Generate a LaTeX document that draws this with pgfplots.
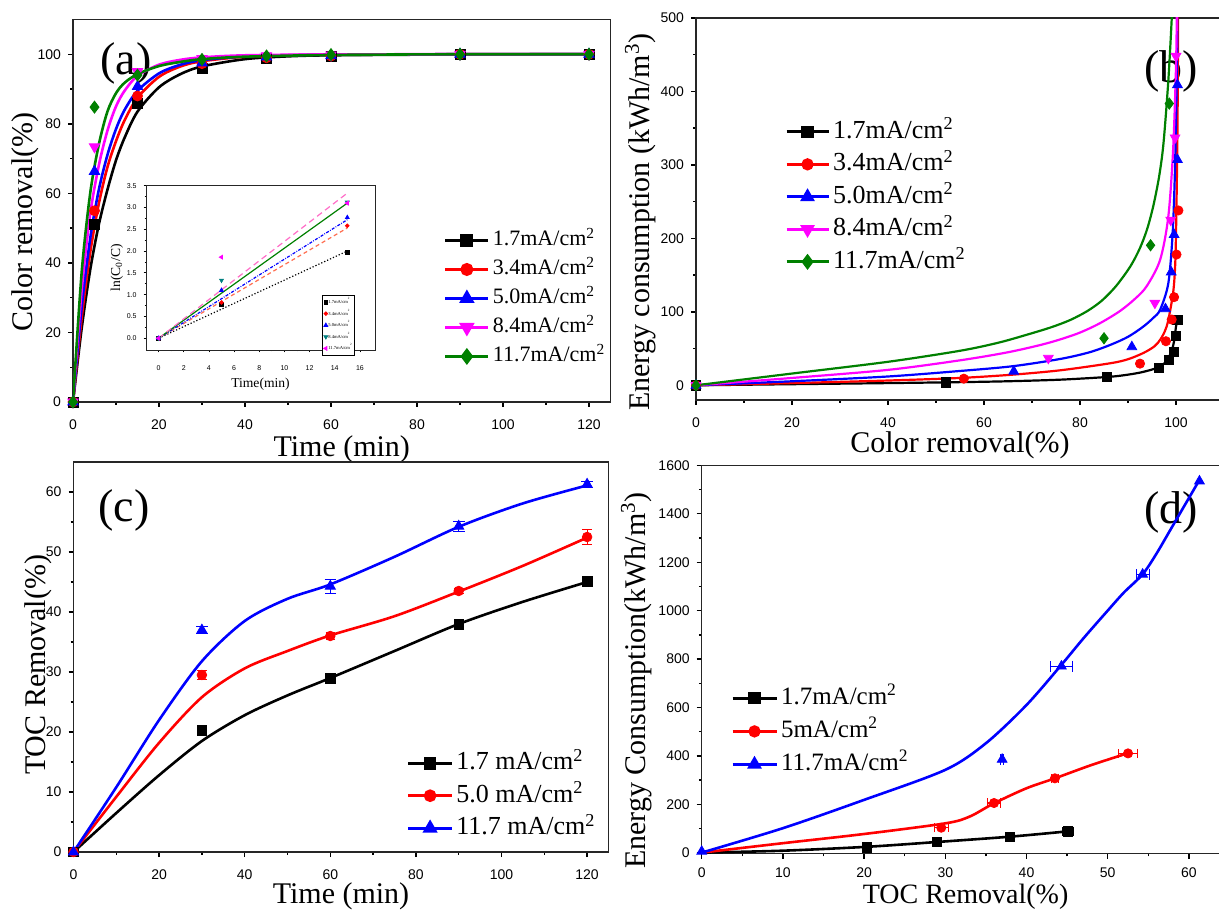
\documentclass[border=0pt]{standalone}
\usepackage{fontspec}
\setmainfont{Liberation Serif}
\setsansfont{Liberation Sans}
\usepackage{pgfplots}
\pgfplotsset{compat=1.18}
\definecolor{ogreen}{RGB}{0,128,0}
\definecolor{oteal}{RGB}{0,128,128}
\definecolor{opink}{RGB}{255,110,200}
\definecolor{oorange}{RGB}{255,110,80}
\definecolor{omag}{RGB}{255,0,255}

\pgfplotsset{
  base/.style={
    scale only axis, anchor=south west,
    axis line style={line width=0.7pt, black!85},
    tick align=outside, xtick pos=left, ytick pos=left,
    major tick length=2.5pt, minor tick length=1.4pt,
    every tick/.style={black, line width=0.7pt},
    minor tick num=1,
    /pgf/number format/assume math mode=true,
    /pgf/number format/set thousands separator={},
    ticklabel style={font=\sffamily\fontsize{7}{8}\selectfont},
    xticklabel style={yshift=-3pt},
    label style={font=\fontsize{15}{18}\selectfont},
    legend cell align=left,
  },
  leg/.style n args={4}{% x, y, font, rowsep
    legend style={at={(rel axis cs:#1,#2)}, anchor=north west, draw=none, fill=none,
      inner sep=0pt, outer sep=0pt, row sep=#4,
      font=\fontsize{#3}{#3}\selectfont,
      nodes={inner sep=0pt, text height=0.75*#3pt, text depth=0.25*#3pt},
      /tikz/every odd column/.append style={column sep=1.5pt}},
  },
  limg/.style={legend image code/.code={\draw[mark repeat=2,mark phase=2] plot coordinates {(0pt,0pt)(#1/2,0pt)(#1,0pt)};}},
  cv/.style={smooth, tension=0.5, line width=1.3pt, forget plot, no markers},
  mk/.style={only marks, forget plot},
}

\begin{document}
\begin{tikzpicture}
%%%%%%%%%%%%%%%%%%%% (a)
\begin{axis}[base, at={(36.5pt,253.5pt)}, width=268.75pt, height=191.25pt,
  xmin=0, xmax=125, ymin=0, ymax=110,
  xtick={0,20,...,120}, ytick={0,20,...,100},
  xlabel={Time (min)}, ylabel={Color removal(\%)},
  ylabel style={at={(ticklabel cs:0.47)}}, ylabel shift=-7.5pt, xlabel shift=-4pt,
  leg={0.690}{0.451}{11}{3.5pt}, limg=21.5pt,
  mark size=2.5pt,
]
\node[font=\fontsize{23}{26}\selectfont] at (rel axis cs:0.0986,0.884) {(a)};
\addplot[cv, black] coordinates {(0,0)(2,21)(4,38)(6,51)(8,61)(10,69.5)(12,76)(15,83.5)(20,90.5)(25,94.3)(30,96.5)(40,98.6)(50,99.4)(60,99.7)(90,99.95)(120,100)};
\addplot[cv, red] coordinates {(0,0)(2,24)(4,43)(6,57)(8,67.5)(10,75)(12,81)(15,87.5)(20,93.5)(25,96.5)(30,98)(40,99.3)(50,99.7)(60,99.9)(90,100)(120,100)};
\addplot[cv, blue] coordinates {(0,0)(2,27)(4,47)(6,61)(8,71)(10,78.5)(12,84)(15,89.5)(20,94.5)(25,97)(30,98.3)(40,99.4)(50,99.7)(60,99.9)(90,100)(120,100)};
\addplot[cv, omag] coordinates {(0,0)(2,32)(4,54)(6,68)(8,78)(10,85)(12,89.5)(15,93.8)(20,97)(25,98.4)(30,99.1)(40,99.7)(60,99.95)(90,100)(120,100)};
\addplot[cv, ogreen] coordinates {(0,0)(2,37)(4,60)(6,74)(8,83.5)(10,88.8)(12,91.8)(15,94.3)(20,96.6)(25,97.8)(30,98.6)(40,99.3)(60,99.8)(90,100)(120,100)};
\addplot[mk, black, mark=square*] coordinates {(0,0)(5,51)(15,86)(30,96)(45,98.8)(60,99.3)(90,100)(120,100)};
\addplot[mk, red, mark=*] coordinates {(0,0)(5,55)(15,88)(30,97.3)(45,99)(60,99.5)(90,100)(120,100)};
\addplot[mk, blue, mark=triangle*, mark size=3pt] coordinates {(0,0)(5,66.3)(15,90.7)(30,97.5)(45,99.2)(60,99.6)(90,100)(120,100)};
\addplot[mk, omag, mark=triangle*, mark size=3pt, mark options={rotate=180}] coordinates {(0,0)(5,73.4)(15,95)(30,98.8)(45,99.6)(60,99.8)(90,100)(120,100)};
\addplot[mk, ogreen, mark=diamond*, mark size=3pt] coordinates {(0,0)(5,84.8)(15,94)(30,98.5)(45,99.5)(60,99.9)(90,100)(120,100)};
\addlegendimage{black, line width=1.5pt, mark=square*}\addlegendentry{1.7mA/cm\textsuperscript{2}}
\addlegendimage{red, line width=1.5pt, mark=*}\addlegendentry{3.4mA/cm\textsuperscript{2}}
\addlegendimage{blue, line width=1.5pt, mark=triangle*, mark size=3pt}\addlegendentry{5.0mA/cm\textsuperscript{2}}
\addlegendimage{omag, line width=1.5pt, mark=triangle*, mark size=3pt, mark options={rotate=180}}\addlegendentry{8.4mA/cm\textsuperscript{2}}
\addlegendimage{ogreen, line width=1.5pt, mark=diamond*, mark size=3pt}\addlegendentry{11.7mA/cm\textsuperscript{2}}
\end{axis}
%%%%%%%%%%%%%%%%%%%% inset
\begin{axis}[base, at={(73pt,279.5pt)}, width=114.5pt, height=82.15pt,
  axis background/.style={fill=white},
  xmin=-1, xmax=17.2, ymin=-0.27, ymax=3.5,
  xtick={0,2,...,16}, ytick={0,0.5,...,3.5},
  axis line style={line width=0.4pt, black!85},
  major tick length=1.2pt, minor tick length=0.7pt,
  every tick/.style={black, line width=0.4pt},
  ticklabel style={font=\sffamily\fontsize{3.5}{4}\selectfont},
  xticklabel style={yshift=0pt},
  yticklabel style={/pgf/number format/.cd, fixed, fixed zerofill, precision=1},
  xlabel={Time(min)}, ylabel={ln(C\textsubscript{0}/C)},
  xlabel shift=-3pt, ylabel shift=-5pt,
  label style={font=\fontsize{6.8}{8}\selectfont},
  legend style={at={(rel axis cs:0.767,0.335)}, anchor=north west, draw=black, line width=0.4pt,
    fill=white, font=\fontsize{2.3}{2.6}\selectfont, inner sep=0.8pt, row sep=0.6pt,
    nodes={inner sep=0.3pt}},
  legend image code/.code={\draw plot coordinates {(2pt,0pt)};},
  mark size=0.9pt,
]
\addplot[black, densely dotted, line width=0.6pt, forget plot] coordinates {(0,0)(15,2.0)};
\addplot[oorange, dash pattern=on 2pt off 1.5pt, line width=0.6pt, forget plot] coordinates {(0,0)(15,2.53)};
\addplot[blue, dash pattern=on 1.5pt off 0.7pt on 0.4pt off 0.7pt, line width=0.6pt, forget plot] coordinates {(0,0)(15,2.72)};
\addplot[ogreen, line width=0.6pt, forget plot] coordinates {(0,0)(15,3.1)};
\addplot[opink, densely dashed, line width=0.6pt, forget plot] coordinates {(0,0)(15,3.33)};
\addplot[only marks, black, mark=square*] coordinates {(0,0)(5,0.77)(15,1.97)};
\addplot[only marks, red, mark=*] coordinates {(0,0)(5,0.82)(15,2.58)};
\addplot[only marks, blue, mark=triangle*, mark size=1.1pt] coordinates {(0,0)(5,1.1)(15,2.77)};
\addplot[only marks, oteal, mark=triangle*, mark size=1.1pt, mark options={rotate=180}] coordinates {(0,0)(5,1.33)(15,3.12)};
\addplot[only marks, omag, mark=triangle*, mark size=1.1pt, mark options={rotate=90}] coordinates {(0,0)(5,1.86)(15,3.1)};
\legend{1.7mA/cm\textsuperscript{2},3.4mA/cm\textsuperscript{2},5.0mA/cm\textsuperscript{2},8.4mA/cm\textsuperscript{2},11.7mA/cm\textsuperscript{2}}
\end{axis}
%%%%%%%%%%%%%%%%%%%% (b)
\begin{axis}[base, at={(348pt,254.5pt)}, width=264pt, height=191pt,
  xmin=0, xmax=110, ymin=-20, ymax=500,
  xtick={0,20,...,100}, ytick={0,100,...,500},
  xlabel={Color removal(\%)}, ylabel={Energy consumption (kWh/m\textsuperscript{3})},
  ylabel style={at={(ticklabel cs:0.466)}}, ylabel shift=-4.5pt, xlabel shift=-5pt,
  leg={0.1686}{0.736}{13}{3.25pt}, limg=21pt,
  mark size=2.3pt,
]
\node[font=\fontsize{23}{26}\selectfont] at (rel axis cs:0.9,0.861) {(b)};
\addplot[cv, black, line width=1.1pt] coordinates {(0,0)(20,1.5)(40,3)(55,4.3)(65,5.5)(76,7.7)(86,11.5)(90,14.5)(93,18)(96,23.6)(97.6,30)(98.4,37)(99.1,47)(99.6,60)(100,80)(100.3,88)};
\addplot[cv, red, line width=1.1pt] coordinates {(0,0)(20,3)(40,6.5)(55,10)(66,14.5)(76,20.5)(86.3,30)(90,35.5)(93.2,44)(95.5,53)(96.7,62)(97.7,74)(98.4,89)(99.4,126)(99.8,160)(100,207)(100.3,344)(100.45,520)};
\addplot[cv, blue, line width=1.1pt] coordinates {(0,0)(20,5.5)(40,12)(55,19.5)(66,26)(76,36)(82,45)(86.3,55)(90,66)(93.2,80)(95.3,92)(96.7,103)(98.4,139)(99.3,207)(99.8,298)(100.2,434)(100.3,520)};
\addplot[cv, omag, line width=1.1pt] coordinates {(0,0)(20,10)(40,21)(55,34)(65,45)(73,57)(79.3,70)(84,84)(88.3,101)(91.5,118)(93.9,135)(96.7,171)(98.4,230)(99.4,321)(100,434)(100.2,520)};
\addplot[cv, ogreen, line width=1.1pt] coordinates {(0,0)(20,16)(40,32)(55,47)(63,58)(69,69)(74,79)(78,89)(81.5,101)(84.5,115)(87.5,135)(90.5,162)(92.5,187)(94,213)(95.3,245)(96.5,285)(97.4,330)(98.4,415)(99.1,498)(99.2,520)};
\addplot[mk, black, mark=square*] coordinates {(0,0)(52,4)(85.6,11)(96.5,23.5)(98.6,35)(99.6,45.5)(100,67)(100.3,88.5)};
\addplot[mk, red, mark=*] coordinates {(0,0)(55.8,9)(92.5,29.5)(97.9,60)(99.1,89.5)(99.6,120)(100.1,178)(100.5,238)};
\addplot[mk, blue, mark=triangle*, mark size=2.8pt] coordinates {(0,0)(66.2,19)(90.8,52.3)(97.8,104)(99,154)(99.6,205)(100.3,307)(100.3,409)};
\addplot[mk, omag, mark=triangle*, mark size=2.8pt, mark options={rotate=180}] coordinates {(0,0)(73.4,37)(95.6,112)(98.9,225)(99.8,337)(100,448)};
\addplot[mk, ogreen, mark=diamond*, mark size=2.8pt] coordinates {(0,0)(85,64)(94.7,190.6)(98.6,383.5)};
\addlegendimage{black, line width=1.5pt, mark=square*}\addlegendentry{1.7mA/cm\textsuperscript{2}}
\addlegendimage{red, line width=1.5pt, mark=*}\addlegendentry{3.4mA/cm\textsuperscript{2}}
\addlegendimage{blue, line width=1.5pt, mark=triangle*, mark size=2.8pt}\addlegendentry{5.0mA/cm\textsuperscript{2}}
\addlegendimage{omag, line width=1.5pt, mark=triangle*, mark size=2.8pt, mark options={rotate=180}}\addlegendentry{8.4mA/cm\textsuperscript{2}}
\addlegendimage{ogreen, line width=1.5pt, mark=diamond*, mark size=2.8pt}\addlegendentry{11.7mA/cm\textsuperscript{2}}
\end{axis}
%%%%%%%%%%%%%%%%%%%% (c)
\begin{axis}[base, at={(36.75pt,28.5pt)}, width=267.5pt, height=195pt,
  xmin=0, xmax=125, ymin=0, ymax=65,
  xtick={0,20,...,120}, ytick={0,10,...,60},
  xlabel={Time (min)}, ylabel={TOC Removal(\%)},
  ylabel style={at={(ticklabel cs:0.48)}}, ylabel shift=-10pt, xlabel shift=-5.5pt,
  leg={0.623}{0.261}{13}{3.25pt}, limg=21.8pt,
  mark size=2.4pt,
]
\node[font=\fontsize{23}{26}\selectfont] at (rel axis cs:0.094,0.877) {(c)};
\addplot[cv, black] coordinates {(0,0)(10,6.5)(20,12.8)(30,18.5)(40,22.8)(50,26.1)(60,29)(75,33.5)(90,38)(105,41.7)(120,45)};
\addplot[cv, red] coordinates {(0,0)(10,9.2)(20,18.2)(30,25.8)(40,30.6)(50,33.5)(60,36.1)(75,39.3)(90,43.4)(105,47.7)(120,52.4)};
\addplot[cv, blue] coordinates {(0,0)(10,10.8)(20,22)(30,31.8)(40,38.5)(50,42.2)(60,44.6)(75,49.2)(90,54.2)(105,58.1)(120,61.1)};
\addplot[mk, black, mark=square*] coordinates {(0,0)(30,20.3)(60,28.9)(90,37.9)(120,45.1)};
\addplot[mk, red, mark=*, error bars/.cd, y dir=both, y explicit, error bar style={line width=0.6pt}] coordinates {(0,0)(30,29.5)+-(0,0.8)(60,36)+-(0,0.6)(90,43.5)+-(0,0.4)(120,52.5)+-(0,1.2)};
\addplot[mk, blue, mark=triangle*, mark size=2.9pt, error bars/.cd, y dir=both, y explicit, error bar style={line width=0.6pt}] coordinates {(0,0)(30,37)+-(0,0.6)(60,44.3)+-(0,1.2)(90,54.3)+-(0,0.8)(120,61.3)+-(0,0.5)};
\addlegendimage{black, line width=1.5pt, mark=square*}\addlegendentry{1.7 mA/cm\textsuperscript{2}}
\addlegendimage{red, line width=1.5pt, mark=*}\addlegendentry{5.0 mA/cm\textsuperscript{2}}
\addlegendimage{blue, line width=1.5pt, mark=triangle*, mark size=2.9pt}\addlegendentry{11.7 mA/cm\textsuperscript{2}}
\end{axis}
%%%%%%%%%%%%%%%%%%%% (d)
\begin{axis}[base, at={(350.85pt,27.7pt)}, width=263.9pt, height=194.1pt,
  xmin=0, xmax=65, ymin=-4, ymax=1600,
  xtick={0,10,...,60}, ytick={0,200,...,1600},
  xticklabel style={inner sep=0.5pt, yshift=-1pt},
  xlabel={TOC Removal(\%)}, ylabel={Energy Consumption(kWh/m\textsuperscript{3})},
  xlabel style={at={(rel axis cs:0.5,0)}, anchor=base, yshift=-25pt, inner sep=0pt,
    font=\fontsize{14}{16}\selectfont},
  ylabel style={at={(ticklabel cs:0.446)}}, ylabel shift=-3.5pt,
  leg={0.0555}{0.432}{12.5}{4pt}, limg=22pt,
  mark size=2.3pt,
]
\node[font=\fontsize{23}{26}\selectfont] at (rel axis cs:0.889,0.879) {(d)};
\addplot[cv, black] coordinates {(0,0)(10,8)(20.3,24)(29,44)(38,66)(45.1,88)};
\addplot[cv, red] coordinates {(0,0)(10,39)(20,77)(30,121)(33,149)(36,204)(40,266)(43.5,307)(48,362)(52.5,411)};
\addplot[cv, blue] coordinates {(0,0)(10,101)(20,218)(30,342)(35,452)(40,610)(44.3,776)(47,885)(50,1000)(52,1075)(54.3,1150)(56,1235)(58,1350)(61.3,1540)};
\addplot[mk, black, mark=square*, error bars/.cd, x dir=both, x explicit, error bar style={line width=0.6pt}] coordinates {(20.3,22)(29,44)+-(0.4,0)(38,66)+-(0.5,0)(45.1,88)+-(0.7,0)};
\addplot[mk, red, mark=*, error bars/.cd, x dir=both, x explicit, error bar style={line width=0.6pt}] coordinates {(29.5,103)+-(0.9,0)(36,205)+-(0.8,0)(43.5,307)+-(0.4,0)(52.5,410)+-(1.2,0)};
\addplot[mk, blue, mark=triangle*, mark size=2.8pt, error bars/.cd, x dir=both, x explicit, error bar style={line width=0.6pt}] coordinates {(0,5)(37,385)+-(0.2,0)(44.3,770)+-(1.3,0)(54.3,1150)+-(0.8,0)(61.3,1535)};
\addlegendimage{black, line width=1.5pt, mark=square*}\addlegendentry{1.7mA/cm\textsuperscript{2}}
\addlegendimage{red, line width=1.5pt, mark=*}\addlegendentry{5mA/cm\textsuperscript{2}}
\addlegendimage{blue, line width=1.5pt, mark=triangle*, mark size=2.8pt}\addlegendentry{11.7mA/cm\textsuperscript{2}}
\end{axis}
\pgfresetboundingbox
\useasboundingbox (0,0) rectangle (609.5pt,454.5pt);
\end{tikzpicture}
\end{document}
